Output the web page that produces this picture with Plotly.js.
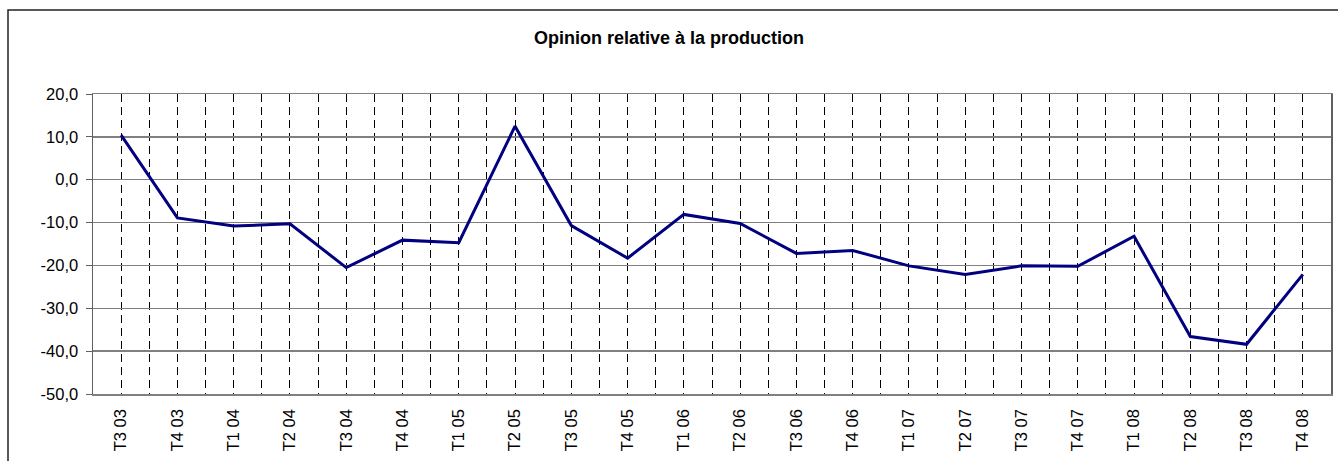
<!DOCTYPE html>
<html>
<head>
<meta charset="utf-8">
<script src="https://cdn.plot.ly/plotly-3.0.1.min.js"></script>
<style>html,body{margin:0;padding:0;background:#fff;}#chart{width:1338px;height:461px;}</style>
</head>
<body>
<div id="chart"></div>
<script>
const categories = ["T3 03","T4 03","T1 04","T2 04","T3 04","T4 04","T1 05","T2 05","T3 05","T4 05","T1 06","T2 06","T3 06","T4 06","T1 07","T2 07","T3 07","T4 07","T1 08","T2 08","T3 08","T4 08"];
const production = [10.4, -8.9, -10.8, -10.3, -20.5, -14.1, -14.7, 12.5, -10.7, -18.3, -8.1, -10.2, -17.2, -16.5, -20.1, -22.1, -20.1, -20.2, -13.2, -36.6, -38.4, -22.1];
const yTicks = [-50, -40, -30, -20, -10, 0, 10, 20];
const yTickLabels = ["-50,0", "-40,0", "-30,0", "-20,0", "-10,0", "0,0", "10,0", "20,0"];
const chartTitle = "Opinion relative à la production";

const idx = categories.map((c, i) => i);
const font = "Liberation Sans, Arial, sans-serif";

Plotly.newPlot("chart", [{
  x: idx,
  y: production,
  type: "scatter",
  mode: "lines",
  line: {color: "#000080", width: 3},
  hoverinfo: "skip"
}], {
  width: 1338, height: 461,
  margin: {l: 93, r: 7, t: 94, b: 67},
  paper_bgcolor: "#fff", plot_bgcolor: "#fff",
  showlegend: false,
  title: {text: "<b>" + chartTitle + "</b>", x: 0.5, xanchor: "center", y: 0.918, yanchor: "middle", yref: "container",
          font: {family: font, size: 18, color: "#000"}},
  xaxis: {
    type: "linear", range: [-0.5, 21.5], fixedrange: true,
    tickmode: "array", tickvals: idx, ticktext: categories, tickangle: -90,
    ticks: "", ticklabelstandoff: 7,
    tickfont: {family: font, size: 16.5, color: "#000"},
    showgrid: true, gridcolor: "#000", gridwidth: 1, griddash: "8px,5px",
    minor: {tickmode: "linear", tick0: 0.5, dtick: 1, showgrid: true, gridcolor: "#000", gridwidth: 1, griddash: "8px,5px", ticks: ""},
    showline: true, linecolor: "#808080", linewidth: 1.5, mirror: true, zeroline: false
  },
  yaxis: {
    range: [-50, 20], fixedrange: true,
    tickmode: "array", tickvals: yTicks, ticktext: yTickLabels,
    ticks: "outside", ticklen: 6, tickcolor: "#606060", ticklabelstandoff: 4,
    tickfont: {family: font, size: 16.5, color: "#000"},
    showgrid: true, gridcolor: "#808080", gridwidth: 1.5,
    showline: true, linecolor: "#606060", linewidth: 1.5, mirror: true, zeroline: false
  },
  shapes: [{
    type: "rect", xref: "paper", yref: "paper",
    x0: (8 - 93) / 1238, x1: 1.02, y0: -0.4, y1: (394 - 10) / 300,
    line: {color: "#222", width: 1.5}, fillcolor: "rgba(0,0,0,0)", layer: "below"
  }]
}, {staticPlot: true});
</script>
</body>
</html>
